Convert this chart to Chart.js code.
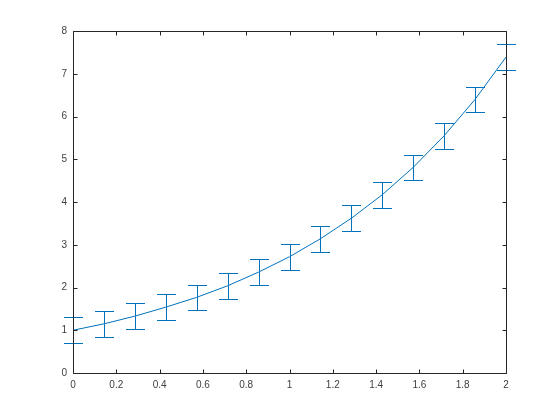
<!DOCTYPE html>
<html><head><meta charset="utf-8">
<script src="https://cdn.jsdelivr.net/npm/chart.js@4/dist/chart.umd.min.js"></script>
<style>html,body{margin:0;padding:0;background:#fff}#c{display:block}</style>
</head><body>
<canvas id="c" width="560" height="420"></canvas>
<script>
const xValues = [0, 0.1429, 0.2857, 0.4286, 0.5714, 0.7143, 0.8571, 1.0, 1.1429, 1.2857, 1.4286, 1.5714, 1.7143, 1.8571, 2.0];
const yValues = [1.00, 1.15, 1.33, 1.54, 1.77, 2.04, 2.36, 2.72, 3.14, 3.62, 4.17, 4.81, 5.55, 6.40, 7.39];
const errValues = [0.3, 0.3, 0.3, 0.3, 0.3, 0.3, 0.3, 0.3, 0.3, 0.3, 0.3, 0.3, 0.3, 0.3, 0.3];
const xTicks = [0, 0.2, 0.4, 0.6, 0.8, 1, 1.2, 1.4, 1.6, 1.8, 2];
const yTicks = [0, 1, 2, 3, 4, 5, 6, 7, 8];

const BLUE = '#0072BD';
const AXIS = '#262626';

const errorBarPlugin = {
  id: 'errorBars',
  afterDatasetsDraw(chart) {
    const ctx = chart.ctx, xs = chart.scales.x, ys = chart.scales.y;
    ctx.save();
    ctx.strokeStyle = BLUE; ctx.lineWidth = 1;
    for (let i = 0; i < xValues.length; i++) {
      const px = Math.round(xs.getPixelForValue(xValues[i])) + 0.5;
      const top = Math.round(ys.getPixelForValue(yValues[i] + errValues[i])) + 0.5;
      const bot = Math.round(ys.getPixelForValue(yValues[i] - errValues[i])) + 0.5;
      ctx.beginPath();
      ctx.moveTo(px, top); ctx.lineTo(px, bot);
      ctx.moveTo(px - 9.5, top); ctx.lineTo(px + 9.5, top);
      ctx.moveTo(px - 9.5, bot); ctx.lineTo(px + 9.5, bot);
      ctx.stroke();
    }
    ctx.restore();
  }
};

const boxPlugin = {
  id: 'box',
  afterDraw(chart) {
    const ctx = chart.ctx, a = chart.chartArea, xs = chart.scales.x, ys = chart.scales.y;
    const L = Math.round(a.left) + 0.5, R = Math.round(a.right) + 0.5;
    const T = Math.round(a.top) + 0.5, B = Math.round(a.bottom) + 0.5;
    ctx.save();
    ctx.strokeStyle = AXIS; ctx.lineWidth = 1;
    ctx.beginPath();
    ctx.rect(L, T, R - L, B - T);
    const tl = 4;
    xTicks.forEach(v => {
      const p = Math.round(xs.getPixelForValue(v)) + 0.5;
      ctx.moveTo(p, B); ctx.lineTo(p, B - tl);
      ctx.moveTo(p, T); ctx.lineTo(p, T + tl);
    });
    yTicks.forEach(v => {
      const p = Math.round(ys.getPixelForValue(v)) + 0.5;
      ctx.moveTo(L, p); ctx.lineTo(L + tl, p);
      ctx.moveTo(R, p); ctx.lineTo(R - tl, p);
    });
    ctx.stroke();
    ctx.restore();
  }
};

new Chart(document.getElementById('c'), {
  type: 'line',
  data: {
    datasets: [{
      data: xValues.map((x, i) => ({ x: x, y: yValues[i] })),
      borderColor: BLUE, borderWidth: 1, pointRadius: 0, fill: false, tension: 0
    }]
  },
  options: {
    responsive: false, animation: false, devicePixelRatio: 1,
    layout: { padding: { left: 0, top: 31, right: 54, bottom: 0 } },
    plugins: { legend: { display: false }, tooltip: { enabled: false } },
    scales: {
      x: {
        type: 'linear', min: 0, max: 2,
        afterBuildTicks: s => { s.ticks = xTicks.map(v => ({ value: v })); },
        afterFit: s => { s.height = 47; },
        grid: { display: false, drawTicks: false },
        border: { display: false },
        ticks: { padding: 6, color: '#404040', font: { family: 'Liberation Sans', size: 10 },
                 maxRotation: 0, autoSkip: false, callback: v => String(Math.round(v * 10) / 10) }
      },
      y: {
        type: 'linear', min: 0, max: 8,
        afterBuildTicks: s => { s.ticks = yTicks.map(v => ({ value: v })); },
        afterFit: s => { s.width = 73; },
        grid: { display: false, drawTicks: false },
        border: { display: false },
        ticks: { padding: 6, color: '#404040', font: { family: 'Liberation Sans', size: 10 },
                 autoSkip: false, callback: v => String(v) }
      }
    }
  },
  plugins: [errorBarPlugin, boxPlugin]
});
</script>
</body></html>
